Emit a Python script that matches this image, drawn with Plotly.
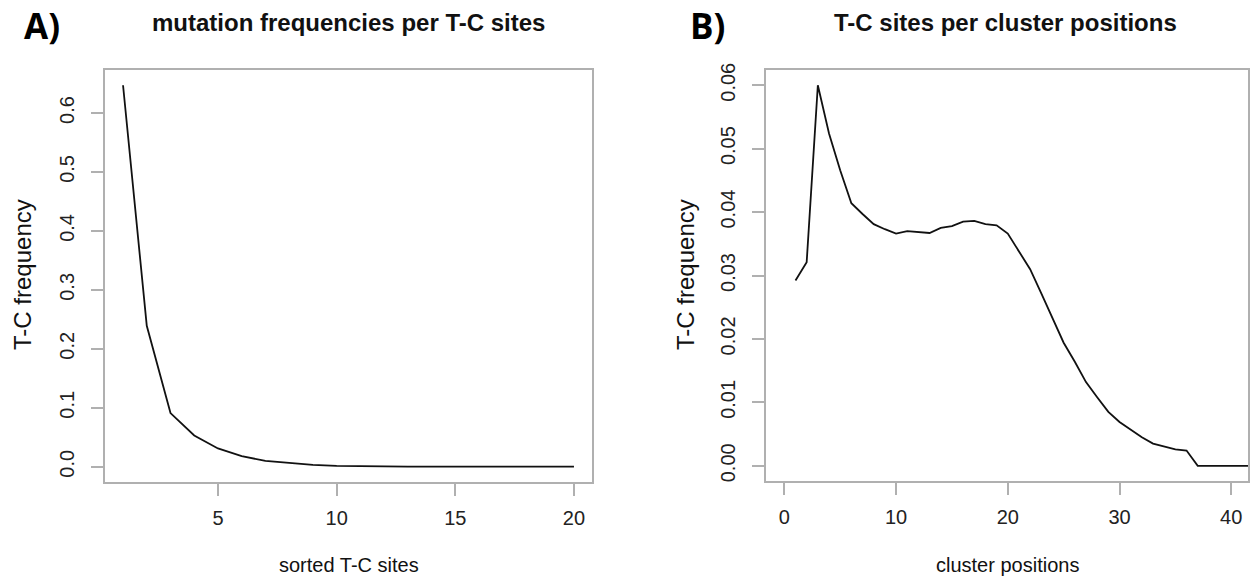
import plotly.graph_objects as go

# ---- data ----
sites_x = list(range(1, 21))
sites_freq = [0.647, 0.239, 0.091, 0.053, 0.031, 0.018, 0.010, 0.006, 0.003, 0.0015,
              0.0008, 0.0005, 0.0003, 0.0002, 0.0001, 0.0001, 0.00005, 0.00003, 0.00002, 0.00001]

cluster_x = list(range(1, 43))
cluster_freq = [0.0292, 0.0321, 0.0600, 0.0524, 0.0466, 0.0414, 0.0397, 0.0381, 0.0373, 0.0366,
                0.0370, 0.0369, 0.0367, 0.0375, 0.0378, 0.0385, 0.0386, 0.0381, 0.0379, 0.0366,
                0.0337, 0.0310, 0.0272, 0.0232, 0.0194, 0.0164, 0.0132, 0.0108, 0.0085, 0.0069,
                0.0057, 0.0045, 0.0035, 0.0030, 0.0026, 0.0024, 0.0, 0.0, 0.0, 0.0,
                0.0, 0.0]

a_xticks = [5, 10, 15, 20]
a_yticks = [0.0, 0.1, 0.2, 0.3, 0.4, 0.5, 0.6]
b_xticks = [0, 10, 20, 30, 40]
b_yticks = [0.00, 0.01, 0.02, 0.03, 0.04, 0.05, 0.06]

title_a = "mutation frequencies per T-C sites"
title_b = "T-C sites per cluster positions"
xlab_a = "sorted T-C sites"
xlab_b = "cluster positions"
ylab = "T-C frequency"

W, H = 1250, 582
FONT = "Liberation Sans, Arial, sans-serif"
GREY = "#b0b0b0"

def px(x):
    return x / W

def py(y):
    return 1 - y / H

# plot boxes in pixels
A_box = (105, 592, 70, 482)
B_box = (766, 1248, 70, 481)

fig = go.Figure()
fig.add_trace(go.Scatter(x=sites_x, y=sites_freq, mode="lines",
                         line=dict(color="#111111", width=1.8), xaxis="x", yaxis="y"))
fig.add_trace(go.Scatter(x=cluster_x, y=cluster_freq, mode="lines",
                         line=dict(color="#111111", width=1.8), xaxis="x2", yaxis="y2"))

axis_common = dict(showline=True, mirror=True, linecolor=GREY, linewidth=1.5,
                   ticks="outside", ticklen=12, tickcolor=GREY, tickwidth=1.5,
                   showgrid=False, zeroline=False, automargin=False,
                   tickfont=dict(family=FONT, size=20, color="#222222"))

fig.update_layout(
    width=W, height=H, margin=dict(l=0, r=0, t=0, b=0),
    paper_bgcolor="white", plot_bgcolor="white", showlegend=False,
    xaxis=dict(domain=[px(A_box[0]), px(A_box[1])], range=[0.24, 20.76],
               tickvals=a_xticks, ticktext=[str(v) for v in a_xticks],
               anchor="y", ticklabelstandoff=5, **axis_common),
    yaxis=dict(domain=[py(A_box[3]), py(A_box[2])], range=[-0.0259, 0.6729],
               tickvals=a_yticks, ticktext=["%.1f" % v for v in a_yticks],
               tickangle=-90, anchor="x", ticklabelstandoff=9, **axis_common),
    xaxis2=dict(domain=[px(B_box[0]), px(B_box[1])], range=[-1.64, 41.5],
                tickvals=b_xticks, ticktext=[str(v) for v in b_xticks],
                anchor="y2", ticklabelstandoff=5, **axis_common),
    yaxis2=dict(domain=[py(B_box[3]), py(B_box[2])], range=[-0.0024, 0.0624],
                tickvals=b_yticks, ticktext=["%.2f" % v for v in b_yticks],
                tickangle=-90, anchor="x2", ticklabelstandoff=9, **axis_common),
)

ann = []
def add_text(x, y, text, size, bold=False, angle=0, family=FONT, color="#111111", yanchor="middle"):
    ann.append(dict(x=px(x), y=py(y), xref="paper", yref="paper", text=("<b>%s</b>" % text) if bold else text,
                    showarrow=False, xanchor="center", yanchor=yanchor, textangle=angle,
                    font=dict(family=family, size=size, color=color)))

add_text((A_box[0] + A_box[1]) / 2, 23, title_a, 24, bold=True)
add_text(1005, 23, title_b, 24, bold=True)
add_text(42, 0, "A)", 35, bold=True, family="Open Sans, Liberation Sans, sans-serif", color="#000000", yanchor="top")
add_text(707, 0, "B)", 35, bold=True, family="Open Sans, Liberation Sans, sans-serif", color="#000000", yanchor="top")
add_text((A_box[0] + A_box[1]) / 2, 565, xlab_a, 20)
add_text(1007, 565, xlab_b, 20)
add_text(22, 275, ylab, 24, angle=-90)
add_text(685, 275, ylab, 24, angle=-90)
fig.update_layout(annotations=ann)

fig.write_html("out.html", config={"displayModeBar": False},
               post_script="document.body.style.margin='0';document.body.style.overflow='hidden';")
